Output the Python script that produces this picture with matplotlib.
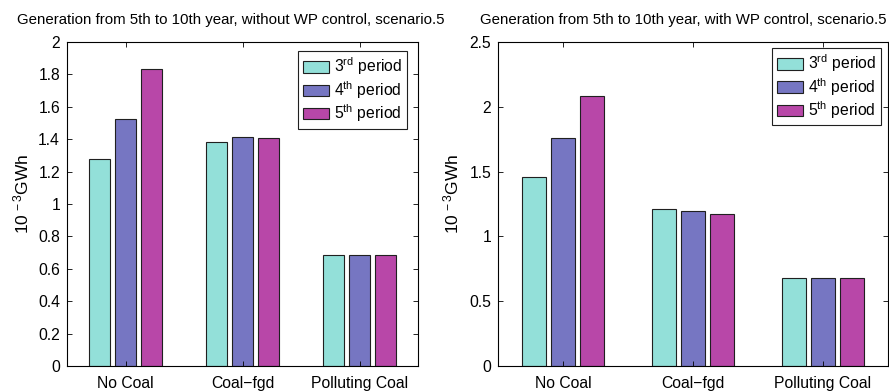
import numpy as np
import matplotlib
matplotlib.use('Agg')
from matplotlib import pyplot as plt

plt.rcParams['font.family'] = ['Liberation Sans', 'DejaVu Sans']
plt.rcParams['mathtext.fontset'] = 'custom'
plt.rcParams['mathtext.rm'] = 'Liberation Sans'
plt.rcParams['mathtext.it'] = 'Liberation Sans'

# 数据
categories = ['No Coal', 'Coal\u2212fgd', 'Polluting Coal']
periods = ['3$^{\\rm rd}$ period', '4$^{\\rm th}$ period', '5$^{\\rm th}$ period']
colors = ['#93E0D9', '#7676C2', '#B847A8']

no_control_3rd = [1.276, 1.383, 0.683]
no_control_4th = [1.525, 1.414, 0.683]
no_control_5th = [1.833, 1.407, 0.683]

wp_control_3rd = [1.458, 1.209, 0.681]
wp_control_4th = [1.757, 1.194, 0.681]
wp_control_5th = [2.081, 1.170, 0.681]

titles = ['Generation from 5th to 10th year, without WP control, scenario.5',
          'Generation from 5th to 10th year, with WP control, scenario.5']
yticks_left = [0, 0.2, 0.4, 0.6, 0.8, 1, 1.2, 1.4, 1.6, 1.8, 2]
yticks_right = [0, 0.5, 1, 1.5, 2, 2.5]

fig = plt.figure(figsize=(8.89, 3.91), dpi=100)
ax1 = fig.add_axes([67 / 889, 25 / 391, 351 / 889, 324 / 391])
ax2 = fig.add_axes([498 / 889, 25 / 391, 390 / 889, 324 / 391])


def draw_group(ax, series, yticks, title, title_x, label_x, legend_anchor):
    x = np.arange(1, len(categories) + 1)
    offsets = [-0.222, 0, 0.222]
    for vals, off, c, lab in zip(series, offsets, colors, periods):
        ax.bar(x + off, vals, width=0.18, color=c, edgecolor='#202020',
               linewidth=0.8, label=lab)
    ax.set_xlim(0.5, 3.5)
    ax.set_ylim(yticks[0], yticks[-1])
    ax.set_yticks(yticks)
    ax.set_yticklabels(['%g' % t for t in yticks])
    ax.set_xticks(x)
    ax.set_xticklabels(categories)
    ax.tick_params(direction='in', length=3.5, width=0.6, labelsize=11.3,
                   top=True, right=True, pad=5)
    ax.tick_params(axis='x', pad=7)
    for s in ax.spines.values():
        s.set_linewidth(0.8)
    ax.set_ylabel('10$^{\\,-3}$GWh', fontsize=12.5)
    ax.yaxis.set_label_coords(label_x, 0.53)
    ax.set_title(title, fontsize=10.8, x=title_x, pad=13)
    leg = ax.legend(loc='upper right', bbox_to_anchor=legend_anchor,
                    fancybox=False, framealpha=1, edgecolor='#202020',
                    fontsize=11.3, handlelength=1.7, handleheight=0.75,
                    borderpad=0.3, labelspacing=0.1, handletextpad=0.3,
                    borderaxespad=0)
    leg.get_frame().set_linewidth(0.8)


draw_group(ax1, [no_control_3rd, no_control_4th, no_control_5th],
           yticks_left, titles[0], 0.467, -0.10, (0.969, 0.972))
draw_group(ax2, [wp_control_3rd, wp_control_4th, wp_control_5th],
           yticks_right, titles[1], 0.474, -0.095, (0.982, 0.982))

plt.savefig('out.png', dpi=100)
